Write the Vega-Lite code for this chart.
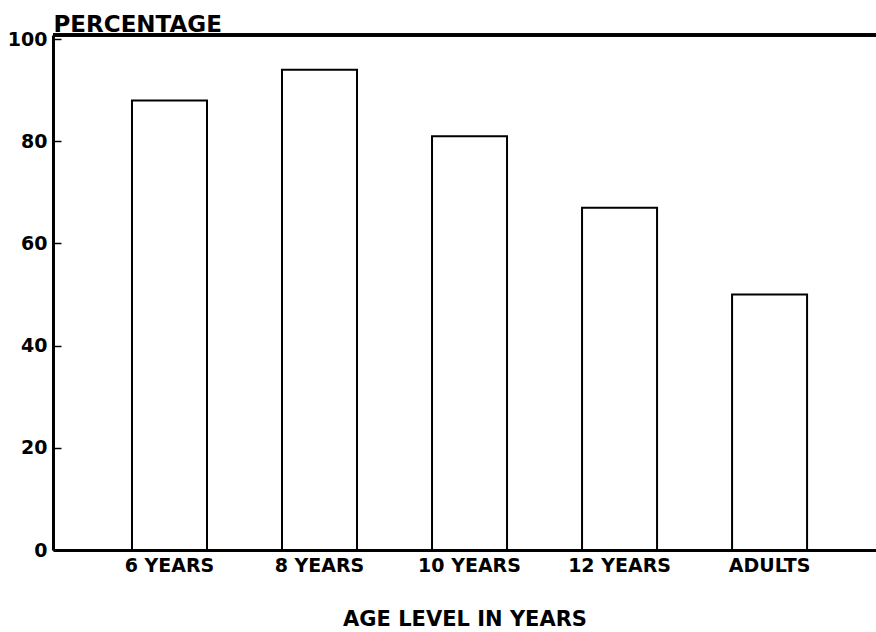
{
  "$schema": "https://vega.github.io/schema/vega-lite/v6.json",
  "autosize": "none",
  "padding": {"left": 53, "top": 35, "right": 0, "bottom": 82},
  "width": 823,
  "height": 515,
  "background": "white",
  "config": {
    "view": {"stroke": null},
    "font": "DejaVu Sans",
    "axis": {"labelFont": "DejaVu Sans", "titleFont": "DejaVu Sans", "labelColor": "black", "titleColor": "black", "domainColor": "black", "tickColor": "black", "grid": false}
  },
  "data": {
    "values": [
      {"age": "6 YEARS", "pct": 88},
      {"age": "8 YEARS", "pct": 94},
      {"age": "10 YEARS", "pct": 81},
      {"age": "12 YEARS", "pct": 67},
      {"age": "ADULTS", "pct": 50}
    ]
  },
  "layer": [
    {
      "mark": {"type": "bar", "fill": "white", "stroke": "black", "strokeWidth": 2},
      "encoding": {
        "x": {
          "field": "age", "type": "nominal", "sort": null,
          "scale": {"paddingInner": 0.5, "paddingOuter": 0.493, "align": 0.534},
          "axis": {
            "title": "AGE LEVEL IN YEARS", "titleFontSize": 21, "titleFontWeight": "bold", "titlePadding": 33,
            "labelFontSize": 19, "labelFontWeight": "bold", "labelAngle": 0, "labelPadding": 6,
            "ticks": false, "domainWidth": 3
          }
        },
        "y": {
          "field": "pct", "type": "quantitative",
          "scale": {"domain": [0, 100.8], "nice": false},
          "axis": {
            "values": [0, 20, 40, 60, 80, 100],
            "title": "PERCENTAGE", "titleAngle": 0, "titleX": 0, "titleY": -4, "titleAlign": "left", "titleBaseline": "alphabetic",
            "titleFontSize": 23, "titleFontWeight": "bold",
            "labelFontSize": 19, "labelFontWeight": "bold", "labelPadding": 14,
            "tickSize": -8, "tickWidth": 1.5, "domainWidth": 3
          }
        }
      }
    },
    {
      "mark": {"type": "rule", "stroke": "black", "strokeWidth": 3},
      "encoding": {"y": {"datum": 100.8}}
    }
  ]
}
